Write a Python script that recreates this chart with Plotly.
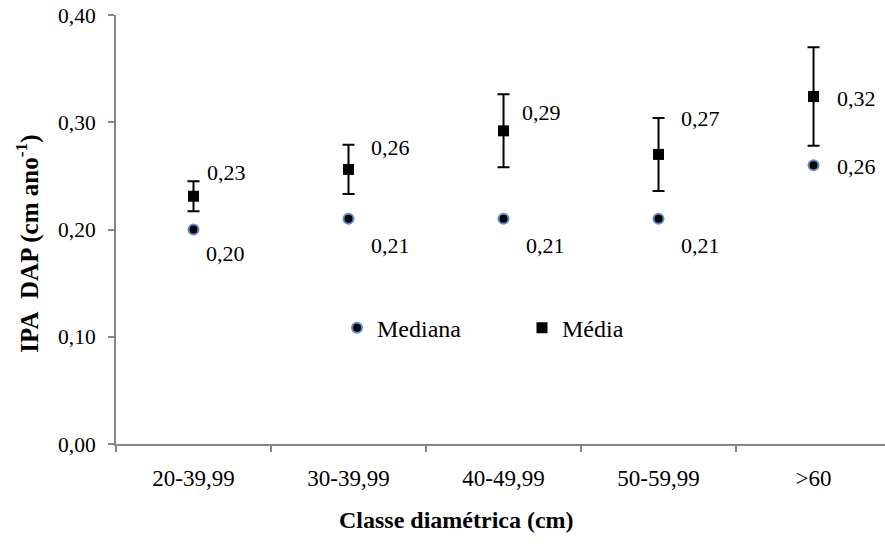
import plotly.graph_objects as go

# Classes de diâmetro (cm)
classes = ["20-39,99", "30-39,99", "40-49,99", "50-59,99", ">60"]

# Incremento periódico anual em DAP (cm ano-1)
mediana = [0.20, 0.21, 0.21, 0.21, 0.26]
media = [0.231, 0.256, 0.292, 0.270, 0.324]
erro_media = [0.014, 0.023, 0.034, 0.034, 0.046]

# Deslocamento (px) dos rótulos de valor em relação ao marcador
rot_media_dx = [11, 20, 16, 20, 21]
rot_media_dy = [24, 22, 18, 36, -2]
rot_mediana_dx = [10, 20, 20, 20, 21]
rot_mediana_dy = [-24, -27, -27, -27, -1]

FONTE = "Liberation Serif, Times New Roman, serif"
EIXO = "#868686"

def fmt(v):
    return f"{v:.2f}".replace(".", ",")

fig = go.Figure()

fig.add_trace(go.Scatter(
    x=classes, y=mediana, mode="markers", name="Mediana",
    marker=dict(symbol="circle", size=10, color="black",
                line=dict(color="#5b8fd0", width=2)),
))

fig.add_trace(go.Scatter(
    x=classes, y=media, mode="markers", name="Média",
    marker=dict(symbol="square", size=11, color="black",
                line=dict(color="black", width=0)),
    error_y=dict(type="data", array=erro_media, visible=True,
                 color="black", thickness=2, width=6),
))

anots = []
for i, c in enumerate(classes):
    anots.append(dict(x=c, y=media[i], text=fmt(media[i]), showarrow=False,
                      xanchor="left", yanchor="middle",
                      xshift=rot_media_dx[i], yshift=rot_media_dy[i],
                      font=dict(family=FONTE, size=22, color="black")))
    anots.append(dict(x=c, y=mediana[i], text=fmt(mediana[i]), showarrow=False,
                      xanchor="left", yanchor="middle",
                      xshift=rot_mediana_dx[i], yshift=rot_mediana_dy[i],
                      font=dict(family=FONTE, size=22, color="black")))

# Títulos dos eixos
anots.append(dict(text="<b>Classe diamétrica (cm)</b>", xref="paper", yref="paper",
                  x=0.4434, y=-0.177, showarrow=False, xanchor="center", yanchor="middle",
                  font=dict(family=FONTE, size=24, color="black")))
anots.append(dict(text="<b>IPA\u00a0\u00a0DAP (cm ano<sup>-1</sup>)</b>", xref="paper", yref="paper",
                  x=-0.115, y=0.466, xanchor="center", yanchor="middle", showarrow=False,
                  textangle=-90,
                  font=dict(family=FONTE, size=25, color="black")))

fig.update_layout(
    width=885, height=546,
    margin=dict(l=116, r=0, t=15, b=102),
    paper_bgcolor="white", plot_bgcolor="white",
    separators=",.",
    font=dict(family=FONTE, size=20, color="black"),
    annotations=anots,
    showlegend=True,
    legend=dict(orientation="h", x=0.2874, y=0.27, xanchor="left", yanchor="middle",
                bgcolor="rgba(0,0,0,0)", font=dict(family=FONTE, size=24),
                entrywidth=140, entrywidthmode="pixels",
                itemclick=False),
    xaxis=dict(
        type="category", range=[-0.5, 4.461],
        showgrid=False, zeroline=False,
        showline=True, linecolor=EIXO, linewidth=2,
        ticks="outside", tickson="boundaries", ticklen=6, tickcolor=EIXO, tickwidth=1.5,
        tickfont=dict(family=FONTE, size=23, color="black"),
        ticklabelstandoff=12,
    ),
    yaxis=dict(
        range=[0, 0.40], dtick=0.10, tickformat=".2f",
        showgrid=False, zeroline=False,
        showline=True, linecolor=EIXO, linewidth=2,
        ticks="outside", ticklen=6, tickcolor=EIXO, tickwidth=1.5,
        tickfont=dict(family=FONTE, size=21.5, color="black"),
        ticklabelstandoff=8,
    ),
)

fig.write_html("out.html")
